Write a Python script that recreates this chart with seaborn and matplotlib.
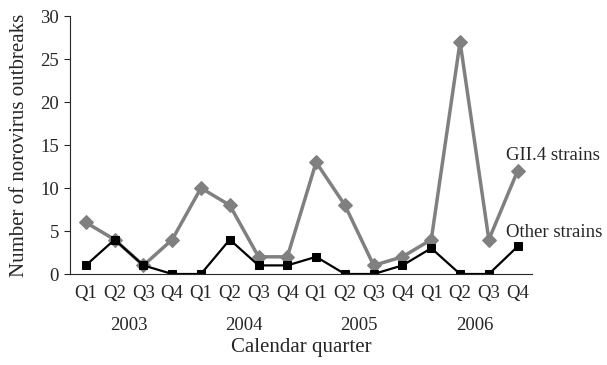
import pandas as pd
import seaborn as sns
import matplotlib.pyplot as plt
from matplotlib.transforms import blended_transform_factory

quarters = ['Q1', 'Q2', 'Q3', 'Q4'] * 4
years = ['2003', '2004', '2005', '2006']
gii4 = [6, 4, 1, 4, 10, 8, 2, 2, 13, 8, 1, 2, 4, 27, 4, 12]
other = [1, 4, 1, 0, 0, 4, 1, 1, 2, 0, 0, 1, 3, 0, 0, 3.2]

def build_df():
    pos = list(range(len(quarters)))
    df = pd.DataFrame({'pos': pos + pos,
                       'count': gii4 + other,
                       'strain': ['GII.4 strains'] * len(pos) + ['Other strains'] * len(pos)})
    return df

def main():
    sns.set_style('ticks')
    plt.rcParams['font.family'] = ['Liberation Serif', 'DejaVu Serif']
    fs = 13.5
    fs_lab = 15

    df = build_df()
    fig = plt.figure(figsize=(6.07, 3.65), dpi=100)
    ax = fig.add_axes([0.1153, 0.2493, 0.7612, 0.7067])

    sns.lineplot(data=df[df.strain == 'GII.4 strains'], x='pos', y='count', ax=ax,
                 color='#808080', linewidth=2.5, marker='D', markersize=7,
                 markeredgecolor='#808080')
    sns.lineplot(data=df[df.strain == 'Other strains'], x='pos', y='count', ax=ax,
                 color='black', linewidth=1.6, marker='s', markersize=6,
                 markeredgecolor='black')

    ax.set_xlim(-0.55, 15.5)
    ax.set_ylim(0, 30)
    ax.set_yticks(range(0, 31, 5))
    ax.set_xticks(range(len(quarters)))
    ax.set_xticklabels(quarters)
    ax.tick_params(axis='x', length=0, pad=8, labelsize=fs)
    ax.tick_params(axis='y', length=4, direction='out', labelsize=fs, pad=4)
    sns.despine(ax=ax)
    ax.set_xlabel('')
    ax.set_ylabel('Number of norovirus outbreaks', fontsize=fs_lab, labelpad=8)

    # year labels under each group of four quarters
    trans = blended_transform_factory(ax.transData, ax.transAxes)
    for i, yr in enumerate(years):
        ax.text(i * 4 + 1.5, -0.198, yr, transform=trans, ha='center', va='center', fontsize=fs)
    ax.text(0.5, -0.285, 'Calendar quarter', transform=ax.transAxes, ha='center', va='center', fontsize=fs_lab)

    ax.text(14.6, 13.8, 'GII.4 strains', ha='left', va='center', fontsize=fs)
    ax.text(14.6, 4.8, 'Other strains', ha='left', va='center', fontsize=fs)

    fig.savefig('out.png', dpi=100)

main()
